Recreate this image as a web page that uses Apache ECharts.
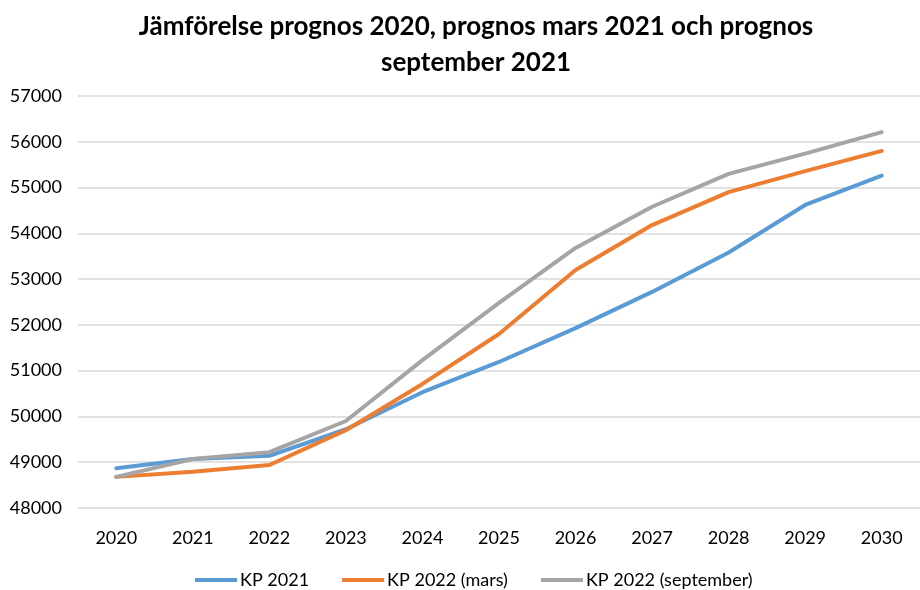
<!DOCTYPE html>
<html><head><meta charset="utf-8">
<script src="https://cdn.jsdelivr.net/npm/echarts@6/dist/echarts.min.js"></script>
<style>html,body{margin:0;padding:0;background:#fff}#c{width:920px;height:590px}</style>
</head><body><div id="c"></div>
<script>
const categories = ['2020','2021','2022','2023','2024','2025','2026','2027','2028','2029','2030'];
const kp2021 = [48870, 49070, 49140, 49720, 50530, 51190, 51930, 52720, 53580, 54620, 55260];
const kp2022mars = [48680, 48790, 48940, 49700, 50710, 51800, 53200, 54180, 54900, 55360, 55800];
const kp2022sept = [48680, 49070, 49220, 49900, 51230, 52480, 53680, 54580, 55300, 55740, 56210];
const seriesNames = ['KP 2021', 'KP 2022 (mars)', 'KP 2022 (september)'];
const colors = ['#5B9BD5', '#ED7D31', '#A5A5A5'];
const font = 'Lato, "Open Sans", sans-serif';

const chart = echarts.init(document.getElementById('c'));
const mk = (name, data, color) => ({
  name, type: 'line', data, symbol: 'none', smooth: false,
  lineStyle: { width: 4, color, cap: 'round', join: 'round' },
  itemStyle: { color }
});
chart.setOption({
  animation: false,
  title: {
    text: 'Jämförelse prognos 2020, prognos mars 2021 och prognos\nseptember 2021',
    left: 471, textAlign: 'center', top: 4,
    textStyle: { fontFamily: font, fontWeight: 'bold', fontSize: 26, color: '#000', lineHeight: 36 }
  },
  legend: {
    top: 566, left: 190, itemWidth: 42, itemHeight: 4, itemGap: 33,
    icon: 'rect',
    textStyle: { fontFamily: font, fontSize: 18, color: '#000', padding: [0, 0, 0, -2] },
    data: seriesNames
  },
  grid: { left: 78, width: 846, top: 96, bottom: 82, containLabel: false },
  xAxis: {
    type: 'category', data: categories, boundaryGap: true,
    axisLine: { show: false }, axisTick: { show: false },
    axisLabel: { fontFamily: font, fontSize: 18, color: '#000', margin: 21 }
  },
  yAxis: {
    type: 'value', min: 48000, max: 57000, interval: 1000,
    axisLine: { show: false }, axisTick: { show: false },
    axisLabel: { fontFamily: font, fontSize: 18, color: '#000', margin: 16, formatter: v => String(v) },
    splitLine: { lineStyle: { color: '#D9D9D9', width: 1.5 } }
  },
  series: [
    mk(seriesNames[0], kp2021, colors[0]),
    mk(seriesNames[1], kp2022mars, colors[1]),
    mk(seriesNames[2], kp2022sept, colors[2])
  ]
});
</script></body></html>
